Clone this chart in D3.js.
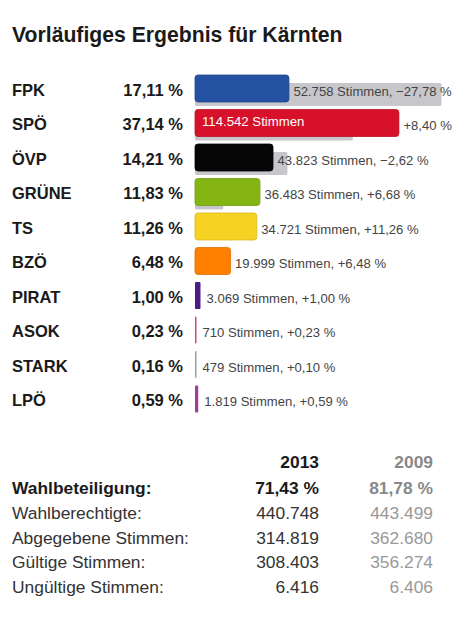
<!DOCTYPE html>
<html>
<head>
<meta charset="utf-8">
<script src="https://cdn.jsdelivr.net/npm/d3@7"></script>
<style>
  body { margin: 0; background: #fff; }
  svg { display: block; font-family: "Liberation Sans", Arial, sans-serif; }
</style>
</head>
<body>
<svg id="chart" width="472" height="629"></svg>
<script>
// Ergebnis 2013
const parties = ["FPK", "SPÖ", "ÖVP", "GRÜNE", "TS", "BZÖ", "PIRAT", "ASOK", "STARK", "LPÖ"];
const shares = [17.11, 37.14, 14.21, 11.83, 11.26, 6.48, 1.00, 0.23, 0.16, 0.59];
const votes = [52758, 114542, 43823, 36483, 34721, 19999, 3069, 710, 479, 1819];
const changes = [-27.78, 8.40, -2.62, 6.68, 11.26, 6.48, 1.00, 0.23, 0.10, 0.59];
const colors = ["#2451a2", "#d8112b", "#060606", "#84b513", "#f6d323", "#ff8000", "#4a1d84", "#d24a6b", "#93a3a3", "#9c3e9a"];

// Wahlbeteiligung table
const tableLabels = ["Wahlbeteiligung:", "Wahlberechtigte:", "Abgegebene Stimmen:", "Gültige Stimmen:", "Ungültige Stimmen:"];
const years = ["2013", "2009"];
const values2013 = ["71,43 %", "440.748", "314.819", "308.403", "6.416"];
const values2009 = ["81,78 %", "443.499", "362.680", "356.274", "6.406"];

const de = d3.formatLocale({ decimal: ",", thousands: ".", grouping: [3], currency: ["", " €"], minus: "\u2212" });
const fmtPct = de.format(".2f");
const fmtChange = de.format("+.2f");
const fmtVotes = de.format(",d");

const svg = d3.select("#chart");

svg.append("text")
  .attr("x", 12).attr("y", 42)
  .attr("font-size", 21.2).attr("font-weight", "bold").attr("fill", "#1a1a1a")
  .text("Vorläufiges Ergebnis für Kärnten");

const x0 = 195;
const x = d3.scaleLinear().domain([0, 50]).range([0, 274.5]);
const y = d3.scaleBand().domain(parties).range([75, 420]).paddingInner(0);

const rows = svg.append("g")
  .selectAll("g")
  .data(parties.map((p, i) => ({
    party: p, share: shares[i], votes: votes[i], change: changes[i],
    prev: Math.max(0, shares[i] - changes[i]), color: colors[i]
  })))
  .join("g")
  .attr("transform", d => `translate(0,${y(d.party)})`);

// previous result (grey)
rows.filter(d => x(d.prev) > 1)
  .append("rect")
  .attr("x", x0).attr("y", 8)
  .attr("width", d => x(d.prev)).attr("height", 23)
  .attr("rx", 1.5)
  .attr("fill", "#c7c7cb");

// current result
rows.append("rect")
  .attr("x", x0).attr("y", 0)
  .attr("width", d => Math.max(1.5, x(d.share))).attr("height", 27)
  .attr("rx", d => x(d.share) > 6 ? 3 : 1)
  .attr("fill", d => d.color)
  .attr("stroke", d => x(d.share) > 6 ? d3.color(d.color).darker(0.4) : "none")
  .attr("stroke-width", 0.8);

rows.append("text")
  .attr("x", 12).attr("y", 20.5)
  .attr("font-size", 16.5).attr("font-weight", "bold").attr("fill", "#1a1a1a")
  .text(d => d.party);

rows.append("text")
  .attr("x", 183).attr("y", 20.5)
  .attr("text-anchor", "end")
  .attr("font-size", 16.5).attr("font-weight", "bold").attr("fill", "#1a1a1a")
  .text(d => fmtPct(d.share) + " %");

// vote labels
const inside = d => x(d.share) > 150;

rows.filter(inside)
  .append("text")
  .attr("x", x0 + 7).attr("y", 16.5)
  .attr("font-size", 13.2).attr("fill", "#fff")
  .text(d => fmtVotes(d.votes) + " Stimmen");

rows.append("text")
  .attr("x", d => x0 + Math.max(1.5, x(d.share)) + (x(d.share) > 10 ? 4.5 : 6))
  .attr("y", 20.5)
  .attr("font-size", 13.1).attr("fill", "#444")
  .text(d => inside(d)
    ? fmtChange(d.change) + " %"
    : fmtVotes(d.votes) + " Stimmen, " + fmtChange(d.change) + " %");

// table
const tx2013 = 319, tx2009 = 433;
const ty = d3.scalePoint().domain(d3.range(tableLabels.length)).range([494, 593]);

const head = svg.append("g").attr("font-size", 17.4).attr("font-weight", "bold");
head.append("text").attr("x", tx2013).attr("y", 468).attr("text-anchor", "end").attr("fill", "#1a1a1a").text(years[0]);
head.append("text").attr("x", tx2009).attr("y", 468).attr("text-anchor", "end").attr("fill", "#888").text(years[1]);

const trows = svg.append("g")
  .selectAll("g")
  .data(tableLabels.map((l, i) => ({ label: l, a: values2013[i], b: values2009[i], i })))
  .join("g")
  .attr("transform", d => `translate(0,${ty(d.i)})`)
  .attr("font-size", 17.4)
  .attr("font-weight", d => d.i === 0 ? "bold" : "normal");

trows.append("text").attr("x", 12).attr("fill", d => d.i === 0 ? "#1a1a1a" : "#333").text(d => d.label);
trows.append("text").attr("x", tx2013).attr("text-anchor", "end").attr("fill", d => d.i === 0 ? "#1a1a1a" : "#333").text(d => d.a);
trows.append("text").attr("x", tx2009).attr("text-anchor", "end").attr("fill", d => d.i === 0 ? "#888" : "#999").text(d => d.b);
</script>
</body>
</html>
